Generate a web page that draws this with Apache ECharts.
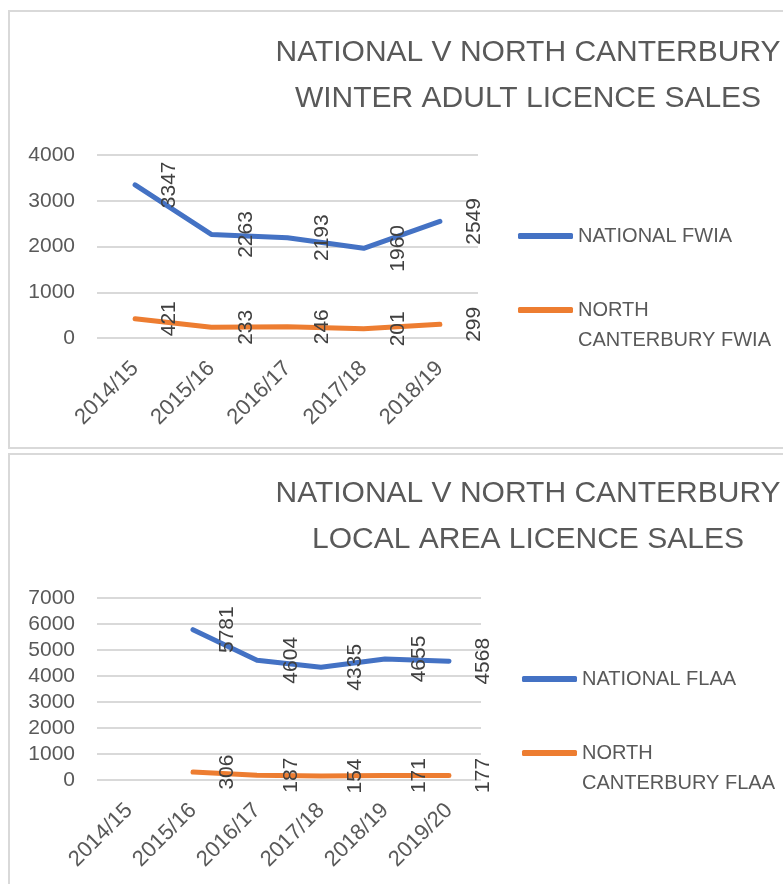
<!DOCTYPE html>
<html>
<head>
<meta charset="utf-8">
<script src="https://cdn.jsdelivr.net/npm/echarts@6/dist/echarts.min.js"></script>
<style>
html, body { margin: 0; padding: 0; background: #fff; overflow: hidden; }
#chart { width: 783px; height: 884px; }
</style>
</head>
<body>
<div id="chart"></div>
<script>
// winter adult licence (FWIA)
var fwiaYears = ['2014/15', '2015/16', '2016/17', '2017/18', '2018/19'];
var fwiaNational = [3347, 2263, 2193, 1960, 2549];
var fwiaNorth = [421, 233, 246, 201, 299];
var fwiaTicks = [0, 4000, 1000];

// local area licence (FLAA)
var flaaYears = ['2014/15', '2015/16', '2016/17', '2017/18', '2018/19', '2019/20'];
var flaaNational = [null, 5781, 4604, 4335, 4655, 4568];
var flaaNorth = [null, 306, 187, 154, 171, 177];
var flaaTicks = [0, 7000, 1000];

var FONT = '"Liberation Sans", Arial, sans-serif';
var BLUE = '#4472C4';
var ORANGE = '#ED7D31';

var myChart = echarts.init(document.getElementById('chart'));
window.onresize = myChart.resize;

function valAxis(idx, ticks) {
	return {
		type: 'value', gridIndex: idx,
		min: ticks[0], max: ticks[1], interval: ticks[2],
		axisLine: {show: false}, axisTick: {show: false},
		axisLabel: {
			color: '#595959', fontSize: 21, fontFamily: FONT, margin: 22,
			formatter: function(v) { return String(v); }
		},
		splitLine: {lineStyle: {color: '#d9d9d9', width: 2}}
	};
}

function catAxis(idx, cats) {
	return {
		type: 'category', gridIndex: idx, data: cats, boundaryGap: true,
		axisLine: {show: false}, axisTick: {show: false},
		axisLabel: {color: '#595959', fontSize: 22, fontFamily: FONT, rotate: 45, margin: 27, interval: 0}
	};
}

function lineSeries(name, idx, data, color) {
	return {
		name: name, type: 'line', xAxisIndex: idx, yAxisIndex: idx,
		data: data, color: color,
		symbol: 'circle', symbolSize: 1, showSymbol: true,
		lineStyle: {width: 5, color: color, cap: 'round', join: 'round'},
		itemStyle: {color: color},
		label: {
			show: true, position: 'right', distance: 34, rotate: 90,
			align: 'center', verticalAlign: 'middle',
			color: '#404040', fontSize: 21, fontFamily: FONT
		}
	};
}

function legendAt(name, left, top, text) {
	return {
		data: [name], left: left, top: top, padding: 0,
		icon: 'roundRect', itemWidth: 55, itemHeight: 6,
		formatter: function() { return text; },
		textStyle: {color: '#595959', fontSize: 20, fontFamily: FONT, lineHeight: 30}
	};
}

function titleText(lines, y) {
	return {
		type: 'text', x: 528, y: y,
		style: {
			text: lines.join('\n'), textAlign: 'center', textVerticalAlign: 'top',
			fill: '#595959', font: '30px ' + FONT, lineHeight: 46
		}
	};
}

option = {
	animation: false,
	grid: [
		{left: 97, top: 155, width: 381, height: 183},
		{left: 97, top: 598, width: 384, height: 182}
	],
	xAxis: [catAxis(0, fwiaYears), catAxis(1, flaaYears)],
	yAxis: [valAxis(0, fwiaTicks), valAxis(1, flaaTicks)],
	legend: [
		legendAt('NATIONAL FWIA', 518, 221, 'NATIONAL FWIA'),
		legendAt('NORTH CANTERBURY FWIA', 518, 265, '\nNORTH\nCANTERBURY FWIA'),
		legendAt('NATIONAL FLAA', 522, 664, 'NATIONAL FLAA'),
		legendAt('NORTH CANTERBURY FLAA', 522, 708, '\nNORTH\nCANTERBURY FLAA')
	],
	graphic: [
		{type: 'rect', shape: {x: 9, y: 11, width: 900, height: 437}, style: {fill: null, stroke: '#d9d9d9', lineWidth: 2}},
		{type: 'rect', shape: {x: 9, y: 454, width: 900, height: 500}, style: {fill: null, stroke: '#d9d9d9', lineWidth: 2}},
		titleText(['NATIONAL V NORTH CANTERBURY', 'WINTER ADULT LICENCE SALES'], 30),
		titleText(['NATIONAL V NORTH CANTERBURY', 'LOCAL AREA LICENCE SALES'], 471)
	],
	series: [
		lineSeries('NATIONAL FWIA', 0, fwiaNational, BLUE),
		lineSeries('NORTH CANTERBURY FWIA', 0, fwiaNorth, ORANGE),
		lineSeries('NATIONAL FLAA', 1, flaaNational, BLUE),
		lineSeries('NORTH CANTERBURY FLAA', 1, flaaNorth, ORANGE)
	]
};
myChart.setOption(option);
</script>
</body>
</html>
